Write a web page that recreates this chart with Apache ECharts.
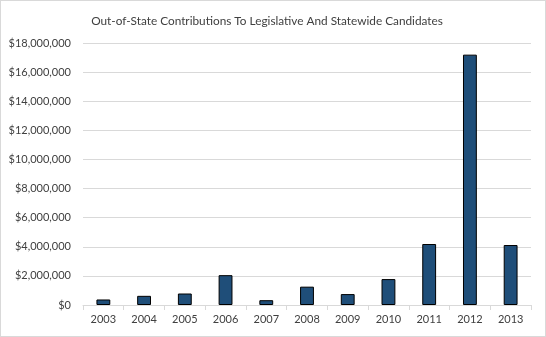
<!DOCTYPE html>
<html><head><meta charset="utf-8">
<script src="https://cdn.jsdelivr.net/npm/echarts@6/dist/echarts.min.js"></script>
<style>
html,body{margin:0;padding:0;background:#fff;}
#c{position:absolute;left:0;top:0;width:544px;height:335px;border:1px solid #d9d9d9;}
</style></head>
<body><div id="c"></div>
<script>
const titleText = "Out-of-State Contributions To Legislative And Statewide Candidates";
const years = ["2003","2004","2005","2006","2007","2008","2009","2010","2011","2012","2013"];
const contributions = [380000, 630000, 790000, 2050000, 330000, 1260000, 750000, 1780000, 4190000, 17200000, 4120000];
const yMin = 0, yMax = 18000000, yStep = 2000000;

const chart = echarts.init(document.getElementById('c'));
const font = 'Lato, "Noto Sans", sans-serif';
chart.setOption({
  animation: false,
  title: {text: titleText, left: 261, top: 9, textAlign: 'center',
    textStyle: {fontFamily: font, fontSize: 11.8, fontWeight: 'normal', color: '#404040'}},
  grid: {left: 82, right: 14, top: 42, bottom: 31},
  xAxis: {type: 'category', data: years,
    axisLine: {lineStyle: {color: '#d9d9d9'}},
    axisTick: {show: true, length: 5, lineStyle: {color: '#d9d9d9'}},
    axisLabel: {fontFamily: font, fontSize: 11, color: '#404040', margin: 9}},
  yAxis: {type: 'value', min: yMin, max: yMax, interval: yStep,
    axisLine: {show: false}, axisTick: {show: false},
    splitLine: {lineStyle: {color: '#d9d9d9'}},
    axisLabel: {fontFamily: font, fontSize: 11, color: '#404040', margin: 12,
      formatter: v => '$' + v.toLocaleString('en-US')}},
  series: [{type: 'bar', data: contributions, barWidth: '34%',
    itemStyle: {color: '#1f4e79', borderColor: '#000', borderWidth: 1}}]
});
</script></body></html>
